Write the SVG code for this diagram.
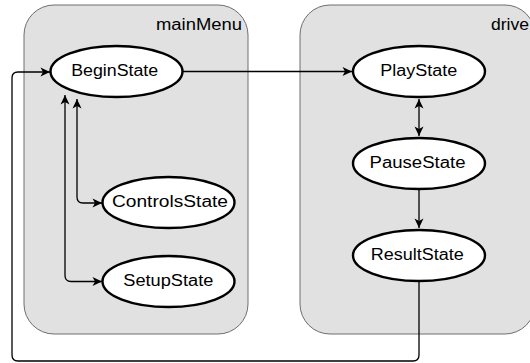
<svg xmlns="http://www.w3.org/2000/svg" width="530" height="363" viewBox="0 0 530 363">
  <style>
    .container { fill: #e1e1e1; stroke: #6e6e6e; stroke-width: 1; }
    .state { fill: #ffffff; stroke: #000000; stroke-width: 2.4; }
    .label { font-family: "Liberation Sans", Arial, sans-serif; font-size: 16px; fill: #000000; }
    .edge { fill: none; stroke: #000000; stroke-width: 1.3; }
  </style>
  <defs>
    <marker id="arrow" viewBox="-10 -5 10 10" refX="0" refY="0" markerWidth="10" markerHeight="10" markerUnits="userSpaceOnUse" orient="auto-start-reverse">
      <path d="M0,0 L-9.5,-4.5 L-7,0 L-9.5,4.5 Z" fill="#000000"/>
    </marker>
  </defs>

  <!-- containers -->
  <g id="mainMenu">
    <rect class="container" x="24" y="5" width="224" height="329" rx="30" ry="30"/>
    <text class="label" x="242" y="30" text-anchor="end" textLength="86" lengthAdjust="spacingAndGlyphs">mainMenu</text>
  </g>
  <g id="drive">
    <rect class="container" x="300" y="5" width="235" height="329" rx="30" ry="30"/>
    <text class="label" x="529" y="30" text-anchor="end" textLength="38" lengthAdjust="spacingAndGlyphs">drive</text>
  </g>

  <!-- connectors -->
  <g id="connectors">
    <path class="edge" d="M183,71.5 H352" marker-end="url(#arrow)"/>
    <path class="edge" d="M419,99 V136" marker-start="url(#arrow)" marker-end="url(#arrow)"/>
    <path class="edge" d="M419,190 V228" marker-end="url(#arrow)"/>
    <path class="edge" d="M419,282 V355 Q419,361 413,361 H18 Q12,361 12,355 V78 Q12,72 18,72 H50" marker-end="url(#arrow)"/>
    <path class="edge" d="M77,99 V197 Q77,203 83,203 H102" marker-start="url(#arrow)" marker-end="url(#arrow)"/>
    <path class="edge" d="M65,95 V275.5 Q65,281.5 71,281.5 H102" marker-start="url(#arrow)" marker-end="url(#arrow)"/>
  </g>

  <!-- states -->
  <g id="BeginState">
    <ellipse class="state" cx="116.5" cy="71.5" rx="66" ry="25.5"/>
    <text class="label" x="114.7" y="76" text-anchor="middle" textLength="87" lengthAdjust="spacingAndGlyphs">BeginState</text>
  </g>
  <g id="ControlsState">
    <ellipse class="state" cx="168.5" cy="202.5" rx="66" ry="25.5"/>
    <text class="label" x="170" y="207" text-anchor="middle" textLength="116" lengthAdjust="spacingAndGlyphs">ControlsState</text>
  </g>
  <g id="SetupState">
    <ellipse class="state" cx="168.5" cy="281.5" rx="66" ry="25.5"/>
    <text class="label" x="168.3" y="286" text-anchor="middle" textLength="90" lengthAdjust="spacingAndGlyphs">SetupState</text>
  </g>
  <g id="PlayState">
    <ellipse class="state" cx="419" cy="71.5" rx="66" ry="25.5"/>
    <text class="label" x="418.7" y="76" text-anchor="middle" textLength="77" lengthAdjust="spacingAndGlyphs">PlayState</text>
  </g>
  <g id="PauseState">
    <ellipse class="state" cx="419" cy="163.5" rx="66" ry="25.5"/>
    <text class="label" x="417.5" y="168" text-anchor="middle" textLength="96" lengthAdjust="spacingAndGlyphs">PauseState</text>
  </g>
  <g id="ResultState">
    <ellipse class="state" cx="419" cy="255.5" rx="66" ry="25.5"/>
    <text class="label" x="417.3" y="260" text-anchor="middle" textLength="93" lengthAdjust="spacingAndGlyphs">ResultState</text>
  </g>
</svg>
